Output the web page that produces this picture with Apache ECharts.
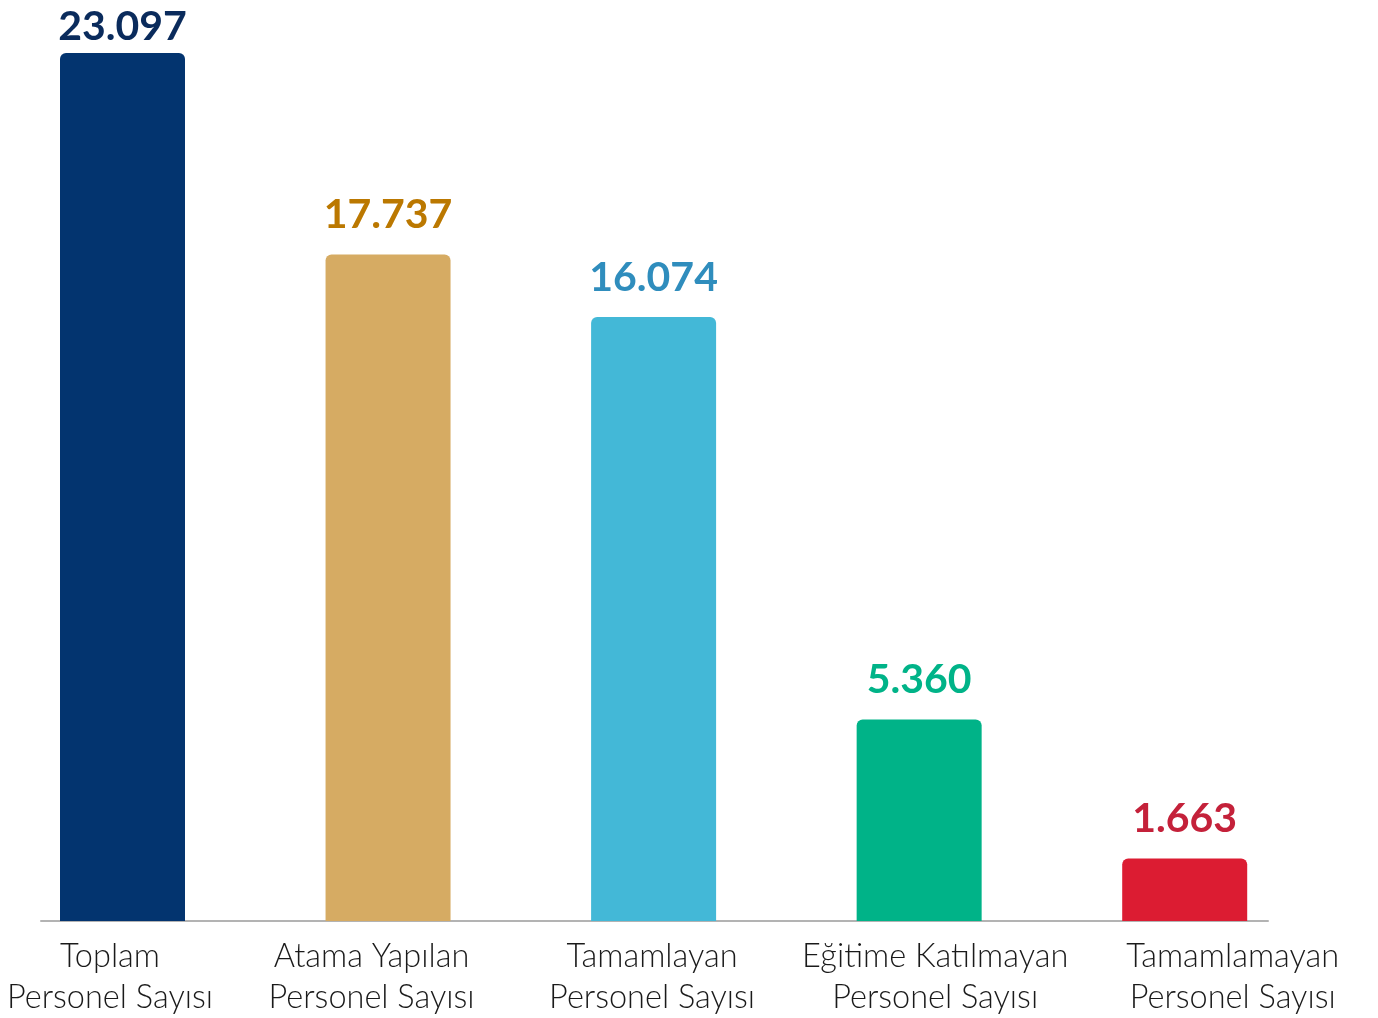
<!DOCTYPE html>
<html>
<head>
<meta charset="utf-8">
<script src="https://cdn.jsdelivr.net/npm/echarts@6/dist/echarts.min.js"></script>
<style>
html,body{margin:0;padding:0;background:#fff;}
#chart{width:1378px;height:1018px;}
</style>
</head>
<body>
<div id="chart"></div>
<script>
const categories = [
  'Toplam\nPersonel Sayısı',
  'Atama Yapılan\nPersonel Sayısı',
  'Tamamlayan\nPersonel Sayısı',
  'Eğitime Katılmayan\nPersonel Sayısı',
  'Tamamlamayan\nPersonel Sayısı'
];
const values = [23097, 17737, 16074, 5360, 1663];
const barColors = ['#03346f', '#d6ab63', '#43b8d7', '#00b388', '#dc1c32'];
const labelColors = ['#0a2b5c', '#bb7800', '#2f8dbd', '#00b388', '#c4213a'];

const FONT = "'Century Gothic', Lato, 'Noto Sans', sans-serif";
function fmt(v) { return String(v).replace(/\B(?=(\d{3})+(?!\d))/g, '.'); }

const labelShift = [[0,25,0,0],[0,33,0,0],[0,3,0,0],[0,0,0,32],[0,0,0,96]];
const rich = {};
labelShift.forEach((p, i) => {
  rich['s' + i] = { padding: p, fontSize: 32.5, lineHeight: 41, fontWeight: 300, color: '#1a1a1a', fontFamily: FONT };
});

const chart = echarts.init(document.getElementById('chart'));
chart.setOption({
  animation: false,
  grid: [
    { left: 122.5, right: 193.3, top: 53, bottom: 97, containLabel: false },
    { left: 41, right: 110, top: 53, bottom: 97, containLabel: false }
  ],
  xAxis: [
    {
      type: 'category', gridIndex: 0, data: categories, boundaryGap: false,
      axisLine: { show: false }, axisTick: { show: false },
      axisLabel: {
        interval: 0, margin: 15,
        formatter: function (val, idx) {
          return val.split('\n').map(l => '{s' + idx + '|' + l + '}').join('\n');
        },
        rich: rich
      }
    },
    {
      type: 'value', gridIndex: 1, min: 0, max: 1,
      axisLine: { show: true, lineStyle: { color: '#b3b3b3', width: 2 } },
      axisTick: { show: false }, axisLabel: { show: false }, splitLine: { show: false }
    }
  ],
  yAxis: [
    { type: 'value', gridIndex: 0, min: 0, max: 23097, show: false, splitLine: { show: false } },
    { type: 'value', gridIndex: 1, min: 0, max: 1, show: false, splitLine: { show: false } }
  ],
  series: [{
    type: 'bar', xAxisIndex: 0, yAxisIndex: 0,
    barWidth: 125,
    data: values.map((v, i) => ({
      value: v,
      itemStyle: { color: barColors[i], borderRadius: [6, 6, 0, 0] },
      label: { color: labelColors[i], distance: i === 0 ? 6 : 19 }
    })),
    label: {
      show: true, position: 'top', fontSize: 41, fontWeight: 'bold', fontFamily: FONT,
      formatter: p => fmt(p.value)
    }
  }]
});
</script>
</body>
</html>
